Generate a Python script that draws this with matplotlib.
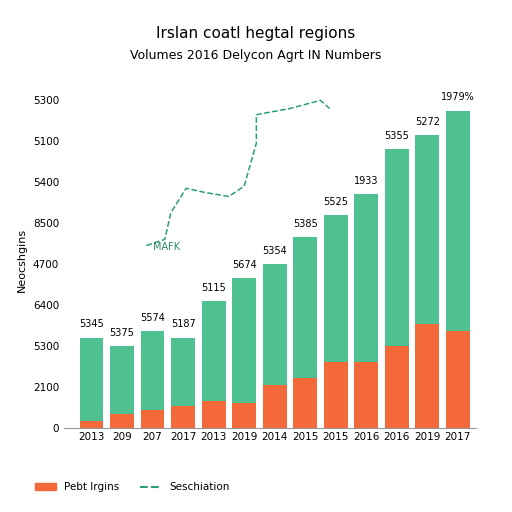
import matplotlib
matplotlib.use("Agg")
import matplotlib.pyplot as plt
from matplotlib.lines import Line2D
from matplotlib.patches import Patch

years = ["2013","209","207","2017","2013","2019","2014","2015","2015","2016","2016","2019","2017"]
totals = [2.2,2.0,2.35,2.2,3.1,3.65,4.0,4.65,5.2,5.7,6.8,7.15,7.75]
orange = [0.15,0.32,0.44,0.52,0.66,0.61,1.03,1.2,1.59,1.61,2.0,2.52,2.37]
labels = ["5345","5375","5574","5187","5115","5674","5354","5385","5525","1933","5355","5272","1979%"]
ytick_labels = ["0","2100","5300","6400","4700","8500","5400","5100","5300"]
line_x = [1.8,2.4,2.6,3.1,3.7,4.5,5.0,5.4,5.4,6.5,7.5,7.8]
line_y = [4.45,4.6,5.25,5.85,5.75,5.65,5.9,6.95,7.65,7.8,8.0,7.8]

green = "#4fc190"; orng = "#f4693a"
fig = plt.figure(figsize=(5.12,5.12), dpi=100)
ax = fig.add_axes([0.125,0.165,0.805,0.655])
x = list(range(len(years)))
ax.bar(x, totals, width=0.78, color=green)
ax.bar(x, orange, width=0.78, color=orng)
for i,(t,l) in enumerate(zip(totals,labels)):
    ax.text(i, t+0.2, l, ha="center", va="bottom", fontsize=7)
ax.plot(line_x, line_y, ls="--", color="#2aa070", lw=1.1)
ax.text(line_x[0]+0.2, line_y[0]-0.1, "MAFK", fontsize=7, color="#2a8a60")
ax.set_xlim(-0.9, 12.6); ax.set_ylim(0, 8.2)
ax.set_yticks(range(9)); ax.set_yticklabels(ytick_labels, fontsize=7.5)
ax.set_xticks(x); ax.set_xticklabels(years, fontsize=7.5)
ax.tick_params(length=0)
for s in ["top","right","left"]: ax.spines[s].set_visible(False)
ax.spines["bottom"].set_color("#999999")
ax.set_ylabel("Neocshgins", fontsize=8)
fig.text(0.5,0.925,"Irslan coatl hegtal regions",ha="center",fontsize=11)
fig.text(0.5,0.885,"Volumes 2016 Delycon Agrt IN Numbers",ha="center",fontsize=9)
fig.legend(handles=[Patch(color=orng,label="Pebt Irgins"),Line2D([],[],ls="--",color="#2aa070",label="Seschiation")],
           loc="lower left", bbox_to_anchor=(0.05,0.02), ncol=2, frameon=False, fontsize=7.5)
fig.savefig("out.png", dpi=100)
